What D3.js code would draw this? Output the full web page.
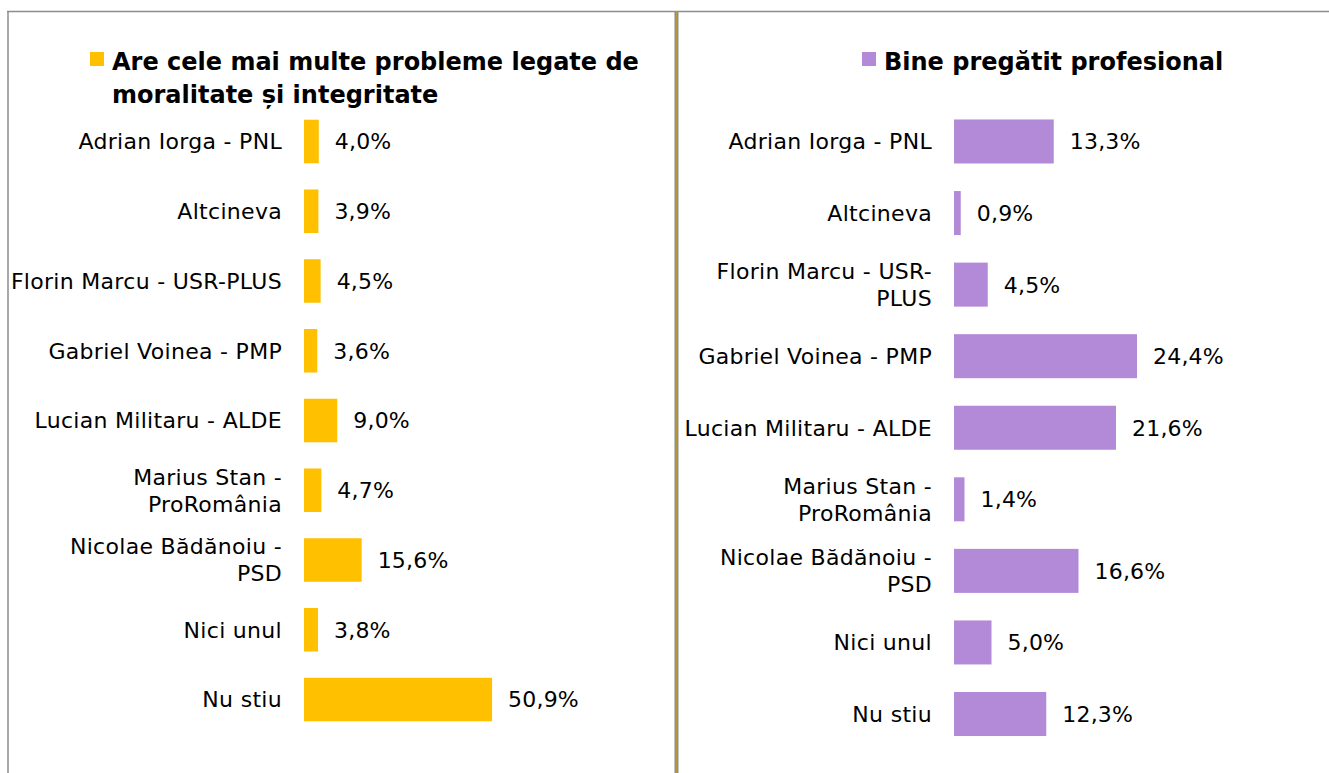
<!DOCTYPE html>
<html>
<head>
<meta charset="utf-8">
<script src="https://cdn.jsdelivr.net/npm/d3@7"></script>
<style>
  html, body { margin: 0; padding: 0; background: #ffffff; }
  svg { display: block; }
</style>
</head>
<body>
<svg id="chart" width="1329" height="773"></svg>
<script>
// ---- data ----
const categories = [
  "Adrian Iorga - PNL",
  "Altcineva",
  "Florin Marcu - USR-PLUS",
  "Gabriel Voinea - PMP",
  "Lucian Militaru - ALDE",
  "Marius Stan - ProRomânia",
  "Nicolae Bădănoiu - PSD",
  "Nici unul",
  "Nu stiu"
];
const labelsLeft = [
  ["Adrian Iorga - PNL"],
  ["Altcineva"],
  ["Florin Marcu - USR-PLUS"],
  ["Gabriel Voinea - PMP"],
  ["Lucian Militaru - ALDE"],
  ["Marius Stan -", "ProRomânia"],
  ["Nicolae Bădănoiu -", "PSD"],
  ["Nici unul"],
  ["Nu stiu"]
];
const labelsRight = [
  ["Adrian Iorga - PNL"],
  ["Altcineva"],
  ["Florin Marcu - USR-", "PLUS"],
  ["Gabriel Voinea - PMP"],
  ["Lucian Militaru - ALDE"],
  ["Marius Stan -", "ProRomânia"],
  ["Nicolae Bădănoiu -", "PSD"],
  ["Nici unul"],
  ["Nu stiu"]
];
const valuesMorality = [4.0, 3.9, 4.5, 3.6, 9.0, 4.7, 15.6, 3.8, 50.9];
const valuesProfessional = [13.3, 0.9, 4.5, 24.4, 21.6, 1.4, 16.6, 5.0, 12.3];
const titleMorality = ["Are cele mai multe probleme legate de", "moralitate și integritate"];
const titleProfessional = ["Bine pregătit profesional"];

// ---- drawing ----
const svg = d3.select("#chart");
const locale = d3.formatLocale({decimal: ",", thousands: ".", grouping: [3], currency: ["", ""]});
const fmt = v => locale.format(".1f")(v) + "%";

const labelFont = "'DejaVu Sans', sans-serif";
const titleFont = "'DejaVu Sans', sans-serif";

// frame
const frameColor = "#8c8c8c";
svg.append("line").attr("x1", 7).attr("x2", 1329).attr("y1", 11.5).attr("y2", 11.5)
  .attr("stroke", frameColor).attr("stroke-width", 1.5);
svg.append("line").attr("x1", 8).attr("x2", 8).attr("y1", 11).attr("y2", 773)
  .attr("stroke", frameColor).attr("stroke-width", 1.5);
svg.append("rect").attr("x", 674.5).attr("y", 11).attr("width", 4).attr("height", 762)
  .attr("fill", frameColor);
svg.append("rect").attr("x", 675.8).attr("y", 11).attr("width", 1.4).attr("height", 762)
  .attr("fill", "#b39a3c");

function panel(opts) {
  const g = svg.append("g");
  const x = d3.scaleLinear().domain([0, 100]).range([opts.x0, opts.x0 + opts.pxPer100]);
  const y = d3.scaleBand().domain(categories).range(opts.yRange)
    .paddingInner(opts.pad).paddingOuter(opts.pad / 2);

  // title with legend square
  g.append("rect").attr("x", opts.titleX - 22).attr("y", 52).attr("width", 14).attr("height", 14)
    .attr("fill", opts.color);
  const t = g.append("text").attr("x", opts.titleX).attr("y", 70)
    .attr("font-family", titleFont).attr("font-weight", "bold").attr("font-size", 24)
    .attr("fill", "#000");
  opts.title.forEach((line, i) => {
    t.append("tspan").attr("x", opts.titleX).attr("dy", i === 0 ? 0 : 33).text(line);
  });

  // bars
  g.selectAll("rect.bar").data(categories).join("rect").attr("class", "bar")
    .attr("x", x(0))
    .attr("y", d => y(d))
    .attr("height", y.bandwidth())
    .attr("width", (d, i) => x(opts.values[i]) - x(0))
    .attr("fill", opts.color);

  // value labels
  g.selectAll("text.val").data(categories).join("text").attr("class", "val")
    .attr("x", (d, i) => x(opts.values[i]) + 16)
    .attr("y", d => y(d) + y.bandwidth() / 2)
    .attr("dy", "0.36em")
    .attr("font-family", labelFont).attr("font-size", 22).attr("letter-spacing", 0.2)
    .attr("fill", "#000")
    .text((d, i) => fmt(opts.values[i]));

  // category labels
  const lh = 27, fs = 22;
  g.selectAll("text.cat").data(categories).join("text").attr("class", "cat")
    .attr("x", opts.labelX)
    .attr("y", d => y(d) + y.bandwidth() / 2)
    .attr("text-anchor", "end")
    .attr("font-family", labelFont).attr("font-size", fs).attr("letter-spacing", 0.3)
    .attr("fill", "#000")
    .each(function(d, i) {
      const lines = opts.labels[i];
      const sel = d3.select(this);
      lines.forEach((ln, k) => {
        sel.append("tspan").attr("x", opts.labelX)
          .attr("dy", k === 0 ? (0.36 * fs - (lines.length - 1) * lh / 2) : lh)
          .text(ln);
      });
    });
}

panel({
  values: valuesMorality, labels: labelsLeft, title: titleMorality, color: "#FFC000",
  x0: 304, pxPer100: 369.5, yRange: [106.6, 734.4], pad: 0.376,
  labelX: 282, titleX: 112
});
panel({
  values: valuesProfessional, labels: labelsRight, title: titleProfessional, color: "#B38AD8",
  x0: 954, pxPer100: 750, yRange: [105.7, 749.8], pad: 0.385,
  labelX: 932, titleX: 884
});
</script>
</body>
</html>
